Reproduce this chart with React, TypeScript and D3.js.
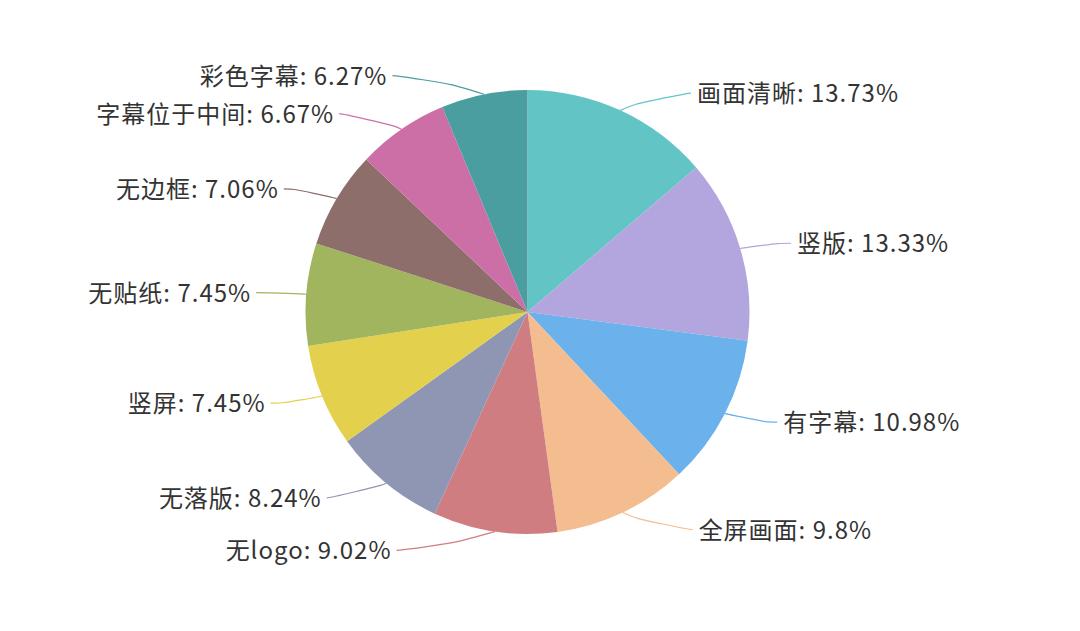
import React, { useEffect, useRef } from "react";
import * as d3 from "d3";

const labels = [
    "画面清晰",
    "竖版",
    "有字幕",
    "全屏画面",
    "无logo",
    "无落版",
    "竖屏",
    "无贴纸",
    "无边框",
    "字幕位于中间",
    "彩色字幕",
];
const values = [13.73, 13.33, 10.98, 9.8, 9.02, 8.24, 7.45, 7.45, 7.06, 6.67, 6.27];
const colors = [
    "#63c4c6",
    "#b3a5de",
    "#6bb1eb",
    "#f4bd8f",
    "#d07d82",
    "#8e96b3",
    "#e3d04c",
    "#a1b45e",
    "#8d6e6b",
    "#cc6fa7",
    "#4a9ea0",
];

const WIDTH = 1080;
const HEIGHT = 631;

const App: React.FC = () => {
    const svgRef = useRef<SVGSVGElement | null>(null);

    useEffect(() => {
        if (!svgRef.current) return;
        const svg = d3.select(svgRef.current);
        svg.selectAll("*").remove();

        const cx = 527.5;
        const cy = 312;
        const r = 222;
        const len1 = 19; // first label line segment
        const len2 = 31; // horizontal label line segment
        const rA = r + len1;
        const rB = r + 40; // labels sit on an ellipse, like echarts does
        const smooth = 0.9;

        const data = labels.map((name, i) => ({ name, value: values[i], color: colors[i] }));

        const pie = d3
            .pie<{ name: string; value: number; color: string }>()
            .value(d => d.value)
            .sort(null);
        const arcs = pie(data);

        const arc = d3
            .arc<d3.PieArcDatum<{ name: string; value: number; color: string }>>()
            .innerRadius(0)
            .outerRadius(r);

        const g = svg.append("g").attr("transform", `translate(${cx},${cy})`);

        g.selectAll("path.slice")
            .data(arcs)
            .enter()
            .append("path")
            .attr("class", "slice")
            .attr("d", arc as any)
            .attr("fill", d => d.data.color);

        // label lines + text
        arcs.forEach(a => {
            const mid = (a.startAngle + a.endAngle) / 2;
            const sx = Math.sin(mid);
            const sy = -Math.cos(mid);
            const dir = sx < 0 ? -1 : 1;
            const p0: [number, number] = [sx * r, sy * r];
            const p1: [number, number] = [sx * rA, sy * rA];
            const dy = Math.abs(p1[1]);
            const ex = Math.sqrt(Math.max(0, 1 - (dy * dy) / (rB * rB))) * rA;
            const p1b: [number, number] = [dir * ex, p1[1]];
            const p2: [number, number] = [dir * (ex + len2), p1[1]];

            // smoothed polyline, same idea as echarts label guide
            const d1 = Math.hypot(p1b[0] - p0[0], p1b[1] - p0[1]);
            const d2 = Math.hypot(p2[0] - p1b[0], p2[1] - p1b[1]);
            const move = Math.min(d1, d2) * smooth;
            const m0 = [
                p1b[0] + (p0[0] - p1b[0]) * (move / d1),
                p1b[1] + (p0[1] - p1b[1]) * (move / d1),
            ];
            const m2 = [
                p1b[0] + (p2[0] - p1b[0]) * (move / d2),
                p1b[1] + (p2[1] - p1b[1]) * (move / d2),
            ];
            const m1 = [(m0[0] + m2[0]) / 2, (m0[1] + m2[1]) / 2];
            const path = d3.path();
            path.moveTo(p0[0], p0[1]);
            path.bezierCurveTo(m0[0], m0[1], m0[0], m0[1], m1[0], m1[1]);
            path.bezierCurveTo(m2[0], m2[1], m2[0], m2[1], p2[0], p2[1]);

            g.append("path")
                .attr("d", path.toString())
                .attr("fill", "none")
                .attr("stroke", a.data.color)
                .attr("stroke-width", 1.2);

            g.append("text")
                .attr("x", p2[0] + dir * (dir < 0 ? 5 : 6))
                .attr("y", p2[1])
                .attr("dy", "0.38em")
                .attr("text-anchor", dir < 0 ? "end" : "start")
                .attr("fill", "#333")
                .style("font-family", "'Noto Sans CJK SC', 'Noto Sans', sans-serif")
                .style("font-size", "24px")
                .style("letter-spacing", "1px")
                .text(`${a.data.name}: ${a.data.value}%`);
        });
    }, []);

    return (
        <div style={{ position: "fixed", left: 0, top: 0, width: WIDTH, height: HEIGHT, background: "#fff" }}>
            <svg ref={svgRef} width={WIDTH} height={HEIGHT} />
        </div>
    );
};

export default App;
